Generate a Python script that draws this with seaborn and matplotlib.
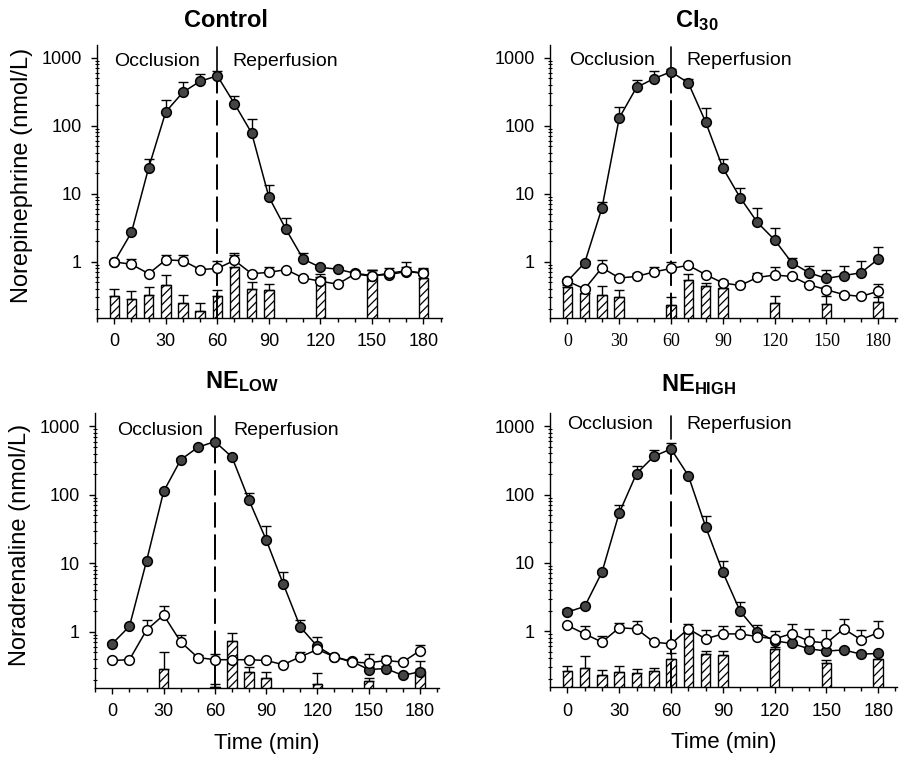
import numpy as np
import matplotlib
matplotlib.use("Agg")
import matplotlib.pyplot as plt
import matplotlib.transforms as mtransforms
from matplotlib.ticker import NullFormatter, MultipleLocator, LogLocator
import seaborn as sns

sns.set_style("ticks", {"axes.edgecolor": "black", "xtick.color": "black",
                        "ytick.color": "black", "text.color": "black",
                        "axes.labelcolor": "black"})
plt.rcParams['font.family'] = ['Liberation Sans', 'DejaVu Sans']
plt.rcParams['mathtext.fontset'] = 'custom'
plt.rcParams['mathtext.rm'] = 'Liberation Sans'
plt.rcParams['mathtext.bf'] = 'Liberation Sans:bold'
plt.rcParams['hatch.linewidth'] = 0.9

# sampling times (min)
time = list(range(0, 181, 10))

# Control
ctrl_filled = [1.0, 2.7, 24, 160, 310, 450, 540, 210, 78, 9.0, 3.0, 1.1, 0.83, 0.78, 0.68, 0.63, 0.65, 0.72, 0.68]
ctrl_filled_err = [0.02, 0.2, 8, 80, 125, 120, 95, 63, 47, 4.5, 1.35, 0.24, 0.07, 0.06, 0.05, 0.12, 0.05, 0.12, 0.1]
ctrl_open = [1.0, 0.92, 0.67, 1.07, 1.04, 0.77, 0.80, 1.05, 0.67, 0.70, 0.77, 0.58, 0.52, 0.47, 0.66, 0.62, 0.68, 0.74, 0.68]
ctrl_open_err = [0.02, 0.18, 0.05, 0.17, 0.23, 0.04, 0.23, 0.29, 0.05, 0.15, 0.03, 0.03, 0.03, 0.03, 0.05, 0.14, 0.14, 0.26, 0.13]
ctrl_bar_t = [0, 10, 20, 30, 40, 50, 60, 70, 80, 90, 120, 150, 180]
ctrl_bar = [0.32, 0.28, 0.33, 0.46, 0.25, 0.19, 0.31, 0.85, 0.40, 0.39, 0.59, 0.63, 0.58]
ctrl_bar_err = [0.08, 0.09, 0.09, 0.18, 0.08, 0.06, 0.08, 0.39, 0.1, 0.08, 0.07, 0.13, 0.18]

# CI30
ci_filled = [0.52, 0.97, 6.2, 130, 365, 490, 620, 425, 114, 24, 8.8, 3.8, 2.1, 0.97, 0.69, 0.57, 0.63, 0.69, 1.1]
ci_filled_err = [0.02, 0.05, 1.5, 56, 110, 137, 60, 60, 68, 8.6, 3.5, 2.3, 1.0, 0.17, 0.17, 0.2, 0.23, 0.33, 0.55]
ci_open = [0.52, 0.40, 0.82, 0.58, 0.61, 0.71, 0.80, 0.89, 0.65, 0.49, 0.45, 0.59, 0.64, 0.61, 0.46, 0.39, 0.33, 0.31, 0.37]
ci_open_err = [0.02, 0.02, 0.23, 0.07, 0.08, 0.12, 0.2, 0.05, 0.03, 0.05, 0.05, 0.1, 0.2, 0.03, 0.03, 0.03, 0.02, 0.02, 0.11]
ci_bar_t = [0, 10, 20, 30, 60, 70, 80, 90, 120, 150, 180]
ci_bar = [0.42, 0.35, 0.33, 0.30, 0.235, 0.55, 0.44, 0.41, 0.25, 0.24, 0.26]
ci_bar_err = [0.03, 0.03, 0.11, 0.09, 0.065, 0.12, 0.05, 0.05, 0.06, 0.07, 0.04]

# NE low
low_filled = [0.67, 1.2, 10.8, 112, 325, 494, 600, 356, 83, 22, 5.0, 1.17, 0.61, 0.43, 0.37, 0.28, 0.29, 0.23, 0.26]
low_filled_err = [0.03, 0.05, 0.5, 5, 15, 20, 30, 15, 23, 12.5, 2.5, 0.33, 0.03, 0.03, 0.03, 0.03, 0.03, 0.02, 0.03]
low_open = [0.38, 0.39, 1.06, 1.75, 0.71, 0.42, 0.39, 0.39, 0.39, 0.38, 0.33, 0.43, 0.55, 0.43, 0.36, 0.35, 0.38, 0.36, 0.53]
low_open_err = [0.01, 0.01, 0.4, 0.6, 0.2, 0.03, 0.08, 0.02, 0.02, 0.02, 0.02, 0.08, 0.3, 0.02, 0.02, 0.13, 0.06, 0.02, 0.12]
low_bar_t = [30, 60, 70, 80, 90, 120, 150, 180]
low_bar = [0.29, 0.155, 0.74, 0.26, 0.21, 0.175, 0.19, 0.27]
low_bar_err = [0.22, 0.015, 0.21, 0.05, 0.05, 0.075, 0.02, 0.1]

# NE high
high_filled = [1.9, 2.3, 7.3, 54, 203, 363, 466, 190, 34, 7.3, 1.96, 0.97, 0.72, 0.66, 0.55, 0.51, 0.53, 0.46, 0.47]
high_filled_err = [0.2, 0.1, 0.5, 17, 63, 80, 103, 5, 14, 3.3, 0.7, 0.03, 0.03, 0.03, 0.03, 0.03, 0.03, 0.03, 0.03]
high_open = [1.21, 0.91, 0.69, 1.12, 1.08, 0.69, 0.65, 1.08, 0.77, 0.91, 0.91, 0.83, 0.77, 0.92, 0.71, 0.67, 1.08, 0.75, 0.95]
high_open_err = [0.05, 0.27, 0.15, 0.2, 0.32, 0.03, 0.03, 0.2, 0.27, 0.27, 0.27, 0.4, 0.23, 0.37, 0.35, 0.37, 0.43, 0.3, 0.47]
high_bar_t = [0, 10, 20, 30, 40, 50, 60, 70, 80, 90, 120, 150, 180]
high_bar = [0.26, 0.29, 0.23, 0.25, 0.24, 0.26, 0.39, 0.95, 0.46, 0.44, 0.54, 0.34, 0.39]
high_bar_err = [0.05, 0.14, 0.04, 0.06, 0.04, 0.03, 0.09, 0.2, 0.05, 0.07, 0.05, 0.04, 0.05]

titles = ["Control", r"$\mathbf{CI_{30}}$", r"$\mathbf{NE_{LOW}}$", r"$\mathbf{NE_{HIGH}}$"]
ylabels = ["Norepinephrine (nmol/L)", "", "Noradrenaline (nmol/L)", ""]


def draw_panel(ax, filled, filled_err, opn, opn_err, bar_t, bar_v, bar_e):
    ax.set_yscale('log')
    sns.barplot(x=bar_t, y=bar_v, native_scale=True, width=0.55, errorbar=None,
                color='white', edgecolor='black', linewidth=1, hatch='////',
                ax=ax, zorder=1)
    ax.errorbar(bar_t, bar_v, yerr=[np.zeros(len(bar_e)), bar_e], fmt='none',
                ecolor='black', elinewidth=1, capsize=3.6, capthick=1, zorder=1.5)
    ax.errorbar(time, filled, yerr=[np.zeros(len(time)), filled_err], fmt='none',
                ecolor='black', elinewidth=1, capsize=3.6, capthick=1, zorder=2)
    ax.errorbar(time, opn, yerr=[np.zeros(len(time)), opn_err], fmt='none',
                ecolor='black', elinewidth=1, capsize=3.6, capthick=1, zorder=2)
    sns.lineplot(x=time, y=filled, ax=ax, color='black', linewidth=1.1, marker='o',
                 markersize=7, markerfacecolor='#454545', markeredgecolor='black',
                 markeredgewidth=1.1, errorbar=None, zorder=3)
    sns.lineplot(x=time, y=opn, ax=ax, color='black', linewidth=1.1, marker='o',
                 markersize=7, markerfacecolor='white', markeredgecolor='black',
                 markeredgewidth=1.1, errorbar=None, zorder=4)


fig = plt.figure(figsize=(8.99, 7.57), dpi=100)
positions = [[0.108, 0.580, 0.384, 0.361],
             [0.612, 0.580, 0.386, 0.361],
             [0.106, 0.091, 0.382, 0.363],
             [0.612, 0.092, 0.386, 0.362]]
data = [(ctrl_filled, ctrl_filled_err, ctrl_open, ctrl_open_err, ctrl_bar_t, ctrl_bar, ctrl_bar_err),
        (ci_filled, ci_filled_err, ci_open, ci_open_err, ci_bar_t, ci_bar, ci_bar_err),
        (low_filled, low_filled_err, low_open, low_open_err, low_bar_t, low_bar, low_bar_err),
        (high_filled, high_filled_err, high_open, high_open_err, high_bar_t, high_bar, high_bar_err)]
title_x = [65, 75, 76, 76]
title_y = [1.066, 1.066, 1.09, 1.08]
text_y = [0.923, 0.927, 0.92, 0.942]
occ_x = [0, 1, 3, 0]
rep_x = [69, 69, 71, 69]

for i in range(4):
    ax = fig.add_axes(positions[i])
    draw_panel(ax, *data[i])
    ax.set_xlim(-10, 191)
    ax.set_ylim(0.15, 1550)
    sns.despine(ax=ax)
    for s in ax.spines.values():
        s.set_linewidth(1.0)

    ax.set_xticks([0, 30, 60, 90, 120, 150, 180])
    ax.set_xticklabels(['0', '30', '60', '90', '120', '150', '180'])
    ax.xaxis.set_minor_locator(MultipleLocator(10))
    ax.set_yticks([1, 10, 100, 1000])
    ax.set_yticklabels(['1', '10', '100', '1000'])
    ax.yaxis.set_minor_locator(LogLocator(base=10, subs=np.arange(2, 10)))
    ax.yaxis.set_minor_formatter(NullFormatter())
    ax.tick_params(axis='x', which='major', direction='out', length=4, width=1, pad=7, labelsize=13)
    ax.tick_params(axis='x', which='minor', direction='out', length=3, width=1)
    ax.tick_params(axis='y', which='major', direction='out', length=4, width=1, pad=7, labelsize=13)
    ax.tick_params(axis='y', which='minor', direction='inout', length=3, width=0.8)
    if i == 1:
        for lab in ax.get_xticklabels():
            lab.set_fontfamily('Liberation Serif')

    # occlusion / reperfusion divider
    ax.axvline(60, ymin=0, ymax=0.88, color='black', lw=1.4, linestyle=(0, (13, 3.5)), zorder=2.5)
    ax.axvline(60, ymin=0.905, ymax=0.99, color='black', lw=1.2, zorder=2.5)
    trans = mtransforms.blended_transform_factory(ax.transData, ax.transAxes)
    ax.text(occ_x[i], text_y[i], "Occlusion", transform=trans, ha='left', va='baseline', fontsize=14)
    ax.text(rep_x[i], text_y[i], "Reperfusion", transform=trans, ha='left', va='baseline', fontsize=14)
    ax.text(title_x[i], title_y[i], titles[i], transform=trans, ha='center', va='baseline',
            fontsize=17, fontweight='bold')

    ax.set_xlabel("Time (min)" if i >= 2 else "", fontsize=16)
    ax.xaxis.set_label_coords(0.5, -0.164)
    ax.xaxis.label.set_va('top')
    ax.set_ylabel(ylabels[i], fontsize=17)
    ax.yaxis.set_label_coords(-0.186, 0.52)

fig.savefig('out.png', dpi=100)
